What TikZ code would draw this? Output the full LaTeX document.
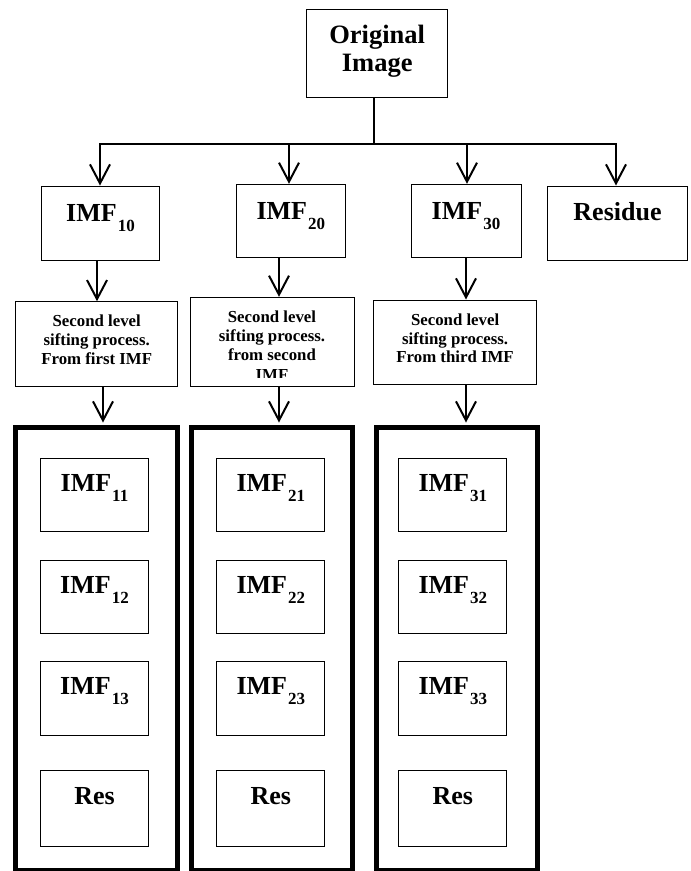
\documentclass[tikz,border=0pt]{standalone}
\usepackage{fontspec}
\setmainfont{Liberation Serif}
\usetikzlibrary{arrows.meta}
\newcommand\sbs[1]{\kern1pt\raisebox{-10pt}{\fontsize{17}{17}\selectfont #1}}
\begin{document}
\begin{tikzpicture}[x=1pt,y=-1pt,
  boxst/.style={draw=black, line width=1pt, inner sep=0pt},
  bigbox/.style={draw=black, line width=5pt, inner sep=0pt},
  lbl/.style={anchor=base, inner sep=0pt, font=\fontsize{26}{28}\selectfont\bfseries},
  olbl/.style={anchor=base, inner sep=0pt, font=\fontsize{26.5}{28}\selectfont\bfseries},
  slsl/.style={anchor=base, inner sep=0pt, font=\fontsize{16.8}{19}\selectfont\bfseries},
  conn/.style={line width=2pt, -{Straight Barb[length=19pt,width=20pt]}},
  bus/.style={line width=2.5pt, line cap=rect},
]
\useasboundingbox (0,0) rectangle (691,871);

% top box
\node[boxst, minimum width=141, minimum height=88] (orig) at (377.2,53.3) {};
\node[olbl] (origt1) at (377.2,43.3) {Original};
\node[olbl] (origt2) at (377.2,71.7) {Image};

% first level boxes
\node[boxst, minimum width=117.6, minimum height=74] (imf10) at (100.5,223) {};
\node[boxst, minimum width=108.4, minimum height=73.4] (imf20) at (290.8,221) {};
\node[boxst, minimum width=110, minimum height=73.4] (imf30) at (466,221) {};
\node[boxst, minimum width=139.6, minimum height=74] (resid) at (617.5,223) {};
\node[lbl] (imf10t) at (100.5,221.7) {IMF\sbs{10}};
\node[lbl] (imf20t) at (290.8,219.3) {IMF\sbs{20}};
\node[lbl] (imf30t) at (466,219.3) {IMF\sbs{30}};
\node[lbl] (residt) at (617.5,220.7) {Residue};

% bus
\coordinate (bm) at (374.3,144);
\coordinate (b1) at (100,144);
\coordinate (b2) at (289,144);
\coordinate (b3) at (467,144);
\coordinate (b4) at (616,144);
\draw[line width=2pt] (orig.south -| bm) -- (bm);
\draw[bus] (b1) -- (b4);
\draw[conn] (b1) -- (imf10.north -| b1);
\draw[conn] (b2) -- (imf20.north -| b2);
\draw[conn] (b3) -- (imf30.north -| b3);
\draw[conn] (b4) -- (resid.north -| b4);

% second level sifting boxes
\node[boxst, minimum width=162, minimum height=85] (sls1) at (96.7,344.2) {};
\node[boxst, minimum width=164, minimum height=88.7] (sls2) at (272,341.65) {};
\node[boxst, minimum width=163, minimum height=84.3] (sls3) at (455.1,342.15) {};

\node[slsl] (s1a) at (96.7,326.7) {Second level};
\node[slsl] (s1b) at (96.7,345.5) {sifting process.};
\node[slsl] (s1c) at (96.7,364.3) {From first IMF};

\begin{scope}
\clip (190.5,297.8) rectangle (353.5,377);
\node[slsl] (s2a) at (272,322.7) {Second level};
\node[slsl] (s2b) at (272,341.7) {sifting process.};
\node[slsl] (s2c) at (272,360.7) {from second};
\node[slsl] (s2d) at (272,380.7) {IMF};
\end{scope}

\node[slsl] (s3a) at (455.1,325.3) {Second level};
\node[slsl] (s3b) at (455.1,344.1) {sifting process.};
\node[slsl] (s3c) at (455.1,362.9) {From third IMF};

% big boxes
\node[bigbox, minimum width=161.7, minimum height=443] (big1) at (96.65,649) {};
\node[bigbox, minimum width=160.6, minimum height=443] (big2) at (272.2,649) {};
\node[bigbox, minimum width=161.4, minimum height=443] (big3) at (456.8,649) {};

% connectors level 1 -> 2 -> 3
\coordinate (a1) at (97,0);
\coordinate (c1) at (103,0);
\coordinate (a2) at (279,0);
\coordinate (a3) at (466,0);
\draw[conn] (imf10.south -| a1) -- (sls1.north -| a1);
\draw[conn] (imf20.south -| a2) -- (sls2.north -| a2);
\draw[conn] (imf30.south -| a3) -- (sls3.north -| a3);
\draw[conn] (sls1.south -| c1) -- ([yshift=2.5pt]big1.north -| c1);
\draw[conn] (sls2.south -| a2) -- ([yshift=2.5pt]big2.north -| a2);
\draw[conn] (sls3.south -| a3) -- ([yshift=2.5pt]big3.north -| a3);

% inner boxes
\foreach \c/\cx in {1/94.5,2/270.85,3/452.8} {
  \node[boxst, minimum width=108, minimum height=73] (i\c1) at (\cx,495.2) {};
  \node[boxst, minimum width=108, minimum height=73.5] (i\c2) at (\cx,596.75) {};
  \node[boxst, minimum width=108, minimum height=73.5] (i\c3) at (\cx,698.45) {};
  \node[boxst, minimum width=108, minimum height=75.5] (r\c) at (\cx,808.45) {};
  \node[lbl] (ti\c1) at (\cx,491.7) {IMF\sbs{\c1}};
  \node[lbl] (ti\c2) at (\cx,593) {IMF\sbs{\c2}};
  \node[lbl] (ti\c3) at (\cx,694.7) {IMF\sbs{\c3}};
  \node[lbl] (tr\c) at (\cx,804) {Res};
}
\end{tikzpicture}
\end{document}
